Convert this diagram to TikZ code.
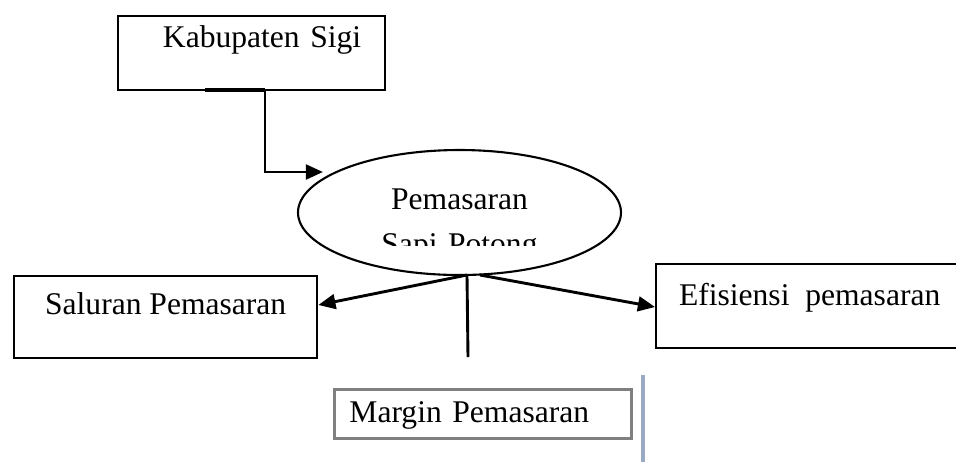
\documentclass[tikz,border=0pt]{standalone}
\usepackage{fontspec}
\setmainfont{Liberation Serif}
\usetikzlibrary{arrows.meta,calc,shapes.geometric}
\definecolor{sidebar}{RGB}{155,170,195}

\begin{document}
\begin{tikzpicture}[x=0.38pt,y=-0.38pt,
  font=\fontsize{12pt}{14.4pt}\selectfont,
  box/.style={draw,line width=0.9pt,rectangle,anchor=north west,inner ysep=0pt},
  link/.style={line width=1.1pt},
  linkarrow/.style={link,-{Triangle[length=6.5pt,width=5.6pt]}}]
\useasboundingbox (0,0) rectangle (956,462);
% kotak
\node[box,inner xsep=9.12pt,text width=83.22pt,align=right,text height=11.78pt,text depth=16.34pt] (sigi) at (117,15) {Kabupaten Sigi};
\node[box,inner xsep=0pt,minimum width=115.14pt,text height=14.44pt,text depth=16.72pt] (saluran) at (13,275) {Saluran Pemasaran};
\node[box,inner xsep=0pt,minimum width=116.66pt,text height=15.58pt,text depth=16.34pt] (efisiensi) at (655,263) {Efisiensi\ \ pemasaran};
\node[box,draw=gray,line width=1.1pt,inner xsep=5.7pt,text width=101.46pt,align=left,text height=12.54pt,text depth=6.08pt] (margin) at (333,388) {Margin Pemasaran};
% elips
\node[ellipse,draw,line width=0.8pt,minimum width=122.74pt,minimum height=47.5pt,inner sep=0pt] (pasar) at (459.5,212.5) {};
\begin{scope}
\clip (290,140) rectangle (630,245);
\node[anchor=base,text width=76pt,align=center,font=\fontsize{12pt}{17.1pt}\selectfont] (pasartext) at (459.5,209) {Pemasaran\\Sapi Potong};
\end{scope}
% panah
\coordinate (sigiout) at ($(sigi.south west)+(148,0)$);
\coordinate (sigiin) at (323,172);
\draw[line width=1.5pt] ($(sigi.south west)+(88,-1)$) -- ($(sigiout)+(0,-1)$);
\draw[linkarrow] (sigiout) |- (sigiin);
\coordinate (hub) at (467,275);
\coordinate (stem) at (468,357);
\draw[linkarrow] (hub) -- ($(saluran.north east)+(0,30)$);
\draw[linkarrow] ($(hub)+(13,0)$) -- ($(efisiensi.north west)+(0,44)$);
\draw[link] (hub) -- (stem);
\draw[sidebar,line width=1.2pt] (643,375) -- (643,462);
\end{tikzpicture}
\end{document}
